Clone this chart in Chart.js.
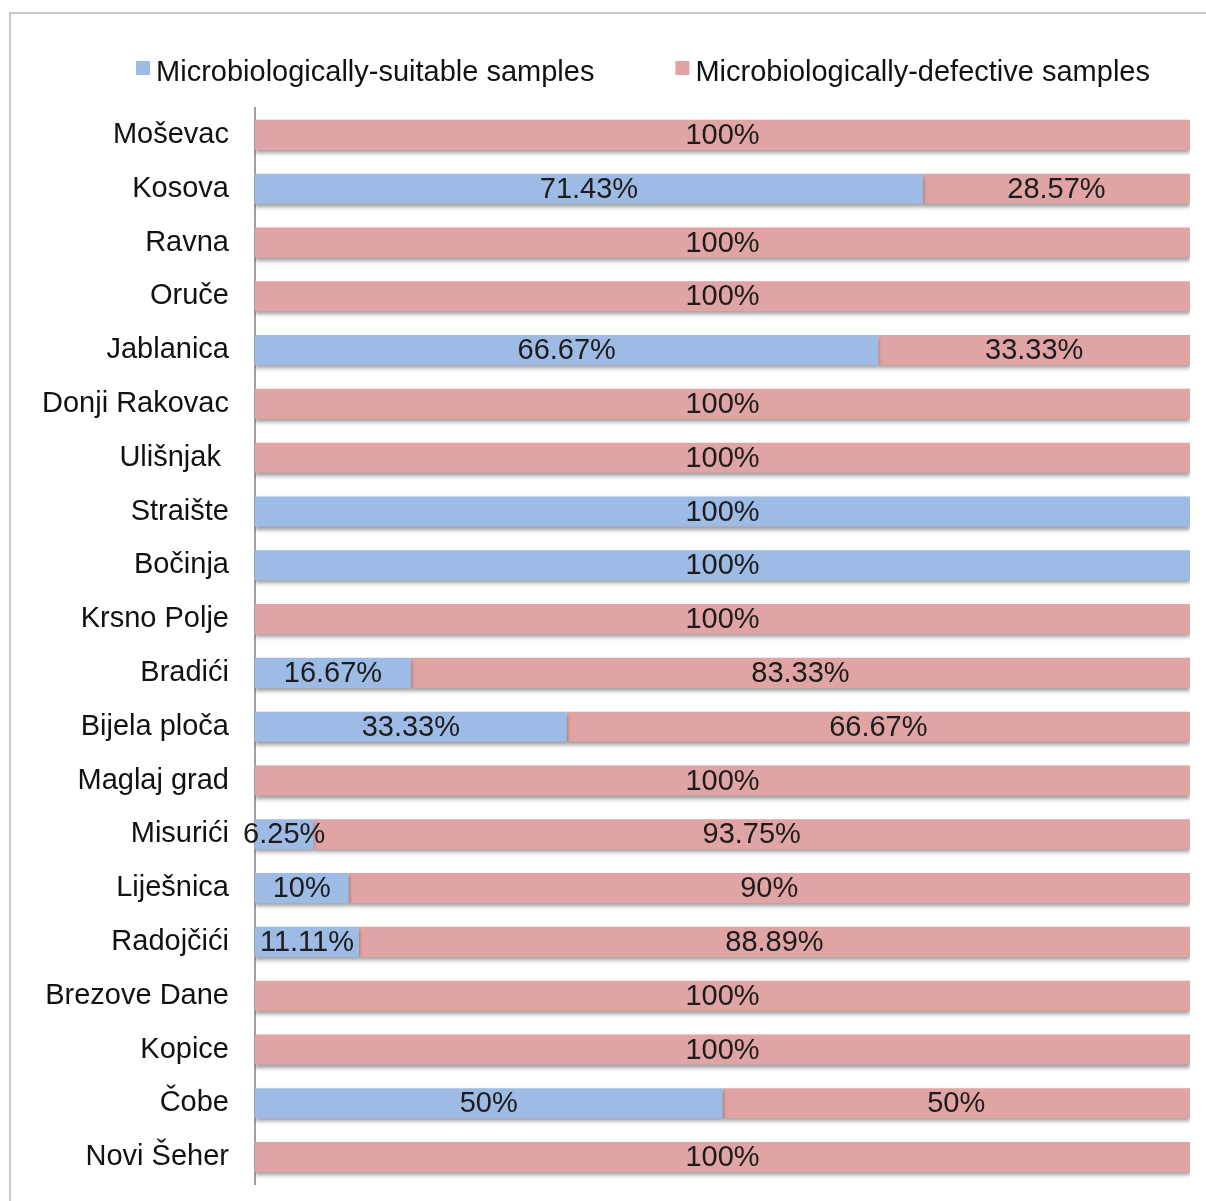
<!DOCTYPE html>
<html>
<head>
<meta charset="utf-8">
<script src="https://cdn.jsdelivr.net/npm/chart.js@4.4.1/dist/chart.umd.min.js"></script>
<style>
  html, body { margin: 0; padding: 0; background: #fff; overflow: hidden; }
  #frame { position: absolute; left: 9px; top: 12px; width: 1400px; height: 1400px; border: 2px solid #c8c8c8; }
  #wrap { position: absolute; left: 0; top: 0; width: 1206px; height: 1201px; }
</style>
</head>
<body>
<div id="frame"></div>
<div id="wrap"><canvas id="chart"></canvas></div>
<script>
// sampling sites, top to bottom
var sites = ['Moševac', 'Kosova', 'Ravna', 'Oruče', 'Jablanica', 'Donji Rakovac', 'Ulišnjak ',
  'Straište', 'Bočinja', 'Krsno Polje', 'Bradići', 'Bijela ploča', 'Maglaj grad', 'Misurići',
  'Liješnica', 'Radojčići', 'Brezove Dane', 'Kopice', 'Čobe', 'Novi Šeher'];

// share of samples in %
var suitable = [0, 71.43, 0, 0, 66.67, 0, 0, 100, 100, 0, 16.67, 33.33, 0, 6.25, 10, 11.11, 0, 0, 50, 0];
var defective = [100, 28.57, 100, 100, 33.33, 100, 100, 0, 0, 100, 83.33, 66.67, 100, 93.75, 90, 88.89, 100, 100, 50, 100];

var seriesNames = ['Microbiologically-suitable samples', 'Microbiologically-defective samples'];
var seriesColors = ['#9dbbe4', '#e0a4a4'];

var fontFamily = '"Liberation Sans", Arial, sans-serif';
var fontSize = 29;
Chart.defaults.font.family = fontFamily;

// grey drop shadow under the bars
var barShadow = {
  id: 'barShadow',
  beforeDatasetsDraw: function (chart) {
    var ctx = chart.ctx;
    ctx.save();
    ctx.shadowColor = 'rgba(0,0,0,0.38)';
    ctx.shadowBlur = 4;
    ctx.shadowOffsetY = 3;
  },
  afterDatasetsDraw: function (chart) {
    chart.ctx.restore();
  }
};

// percentage text in the middle of each segment
var barLabels = {
  id: 'barLabels',
  afterDatasetsDraw: function (chart) {
    var ctx = chart.ctx;
    ctx.save();
    ctx.font = fontSize + 'px ' + fontFamily;
    ctx.fillStyle = '#1c1c1c';
    ctx.textAlign = 'center';
    ctx.textBaseline = 'middle';
    chart.data.datasets.forEach(function (ds, i) {
      chart.getDatasetMeta(i).data.forEach(function (bar, j) {
        var v = ds.data[j];
        if (!v) return;
        ctx.fillText(v + '%', (bar.x + bar.base) / 2, bar.y + 1);
      });
    });
    ctx.restore();
  }
};

// legend drawn like the original: small squares, wide gap between items
var topLegend = {
  id: 'topLegend',
  afterDraw: function (chart) {
    var ctx = chart.ctx;
    ctx.save();
    ctx.font = fontSize + 'px ' + fontFamily;
    var box = 14, gap = 6, spacing = 81;
    var widths = seriesNames.map(function (n) { return ctx.measureText(n).width; });
    var total = widths[0] + widths[1] + 2 * (box + gap) + spacing;
    var x = 643 - total / 2;
    var y = 73;
    ctx.textBaseline = 'middle';
    ctx.textAlign = 'left';
    seriesNames.forEach(function (name, i) {
      ctx.fillStyle = seriesColors[i];
      ctx.fillRect(x, y - 12, box, box);
      ctx.fillStyle = '#111';
      ctx.fillText(name, x + box + gap, y);
      x += box + gap + widths[i] + spacing;
    });
    ctx.restore();
  }
};

var ctx = document.getElementById('chart').getContext('2d');
var chart = new Chart(ctx, {
  type: 'bar',
  data: {
    labels: sites,
    datasets: [{
      label: seriesNames[0],
      data: suitable,
      backgroundColor: seriesColors[0],
      borderWidth: 0
    }, {
      label: seriesNames[1],
      data: defective,
      backgroundColor: seriesColors[1],
      borderWidth: 0
    }]
  },
  options: {
    indexAxis: 'y',
    responsive: true,
    maintainAspectRatio: false,
    animation: false,
    categoryPercentage: 1,
    barPercentage: 0.56,
    layout: { padding: { top: 108, right: 16, bottom: 17, left: 0 } },
    plugins: {
      legend: { display: false },
      tooltip: { enabled: false }
    },
    scales: {
      x: {
        stacked: true,
        min: 0,
        max: 100,
        display: false
      },
      y: {
        stacked: true,
        grid: { display: false, drawTicks: false },
        border: { display: true, color: '#a0a0a0', width: 2 },
        ticks: {
          color: '#111',
          padding: 26,
          font: { size: fontSize },
          autoSkip: false
        },
        afterFit: function (scale) {
          scale.width = 255;
          scale.paddingTop = 0;
          scale.paddingBottom = 0;
        }
      }
    }
  },
  plugins: [barShadow, barLabels, topLegend]
});
</script>
</body>
</html>
